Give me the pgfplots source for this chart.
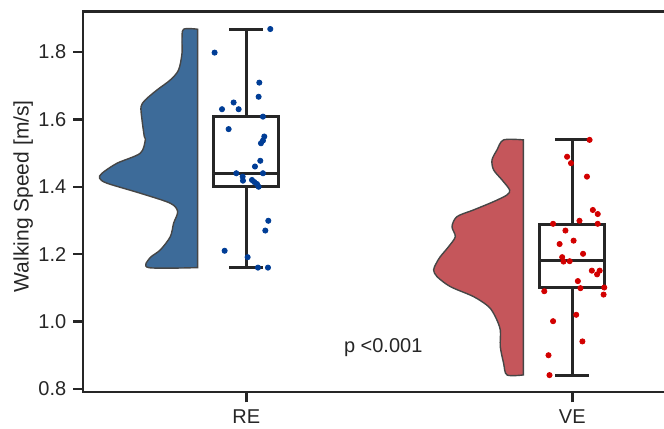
\documentclass[border=0pt]{standalone}
\usepackage{fontspec}
\setmainfont{Liberation Sans}
\usepackage{pgfplots}
\pgfplotsset{compat=1.18}
\usepgfplotslibrary{statistics}
\definecolor{spine}{RGB}{38,38,38}
\definecolor{REfill}{RGB}{61,107,153}
\definecolor{VEfill}{RGB}{197,86,91}
\definecolor{vedge}{RGB}{70,70,70}
\definecolor{REpt}{RGB}{0,61,150}
\definecolor{VEpt}{RGB}{210,0,0}
\begin{document}
\begin{tikzpicture}
\path[use as bounding box] (-41.65bp,-18.35bp) rectangle (290.35bp,196.15bp);
\begin{axis}[
  scale only axis, width=326bp, height=190.4bp,
  xmin=-0.5, xmax=1.5, ymin=0.79, ymax=1.92,
  xtick={0,1}, xticklabels={RE,VE},
  ytick={0.8,1.0,1.2,1.4,1.6,1.8},
  yticklabel style={/pgf/number format/.cd, fixed, fixed zerofill, precision=1, assume math mode=true},
  tick align=outside, tick pos=left, major tick length=5bp,
  axis line style={line width=1.2bp, draw=spine},
  every tick/.style={line width=1.2bp, draw=spine},
  font=\fontsize{10bp}{12bp}\selectfont,
  ticklabel style={font=\fontsize{10bp}{12bp}\selectfont, text=spine},
  ylabel={Walking Speed [m/s]},
  ylabel style={at={(axis description cs:-0.092,0.515)}, anchor=center, font=\fontsize{10.5bp}{12bp}\selectfont, text=spine},
  boxplot/draw direction=y,
  clip=false,
]
% RE half violin
\addplot[fill=REfill, draw=vedge, line width=0.7bp, smooth, tension=0.5] coordinates {
(-0.1494,1.8674) (-0.1923,1.8674) (-0.1972,1.8356) (-0.1972,1.7961) (-0.2077,1.7466)
(-0.2331,1.7169) (-0.2739,1.6872) (-0.3098,1.6576) (-0.3230,1.6377) (-0.3199,1.5982)
(-0.3129,1.5487) (-0.3098,1.5389) (-0.3252,1.4994) (-0.3966,1.4697) (-0.4426,1.4401)
(-0.4500,1.4252) (-0.4273,1.4104) (-0.3252,1.3807) (-0.2331,1.3510) (-0.2107,1.3261)
(-0.2230,1.2917) (-0.2331,1.2519) (-0.2638,1.2125) (-0.2966,1.1878) (-0.2997,1.1600)
(-0.1494,1.1600)
} -- cycle;
% VE half violin
\addplot[fill=VEfill, draw=vedge, line width=0.7bp, smooth, tension=0.5] coordinates {
(0.8500,1.539) (0.7893,1.539) (0.7690,1.5092) (0.7537,1.4795) (0.7586,1.4499)
(0.7844,1.4202) (0.8077,1.3905) (0.7997,1.3757) (0.7586,1.3558) (0.6972,1.3312)
(0.6463,1.3113) (0.6310,1.2816) (0.6411,1.2519) (0.6206,1.2223) (0.5951,1.1926)
(0.5828,1.1730) (0.5745,1.1531) (0.5850,1.1332) (0.6258,1.1036) (0.6972,1.0739)
(0.7433,1.0442) (0.7638,1.0145) (0.7791,0.9751) (0.7791,0.9255) (0.7893,0.8763)
(0.7997,0.8415) (0.8500,0.8415)
} -- cycle;
% box plots
\addplot[boxplot prepared={draw position=0, lower whisker=1.16, lower quartile=1.40, median=1.44, upper quartile=1.608, upper whisker=1.868, box extend=0.2, whisker extend=0.104}, draw=spine, line width=1.5bp, fill=white, solid] coordinates {};
\addplot[boxplot prepared={draw position=1, lower whisker=0.841, lower quartile=1.10, median=1.18, upper quartile=1.289, upper whisker=1.539, box extend=0.2, whisker extend=0.104}, draw=spine, line width=1.5bp, fill=white, solid] coordinates {};
% RE points
\addplot[only marks, mark=*, mark size=1.3bp, color=REpt, mark options={draw=none, fill=REpt}] coordinates {
(0.0736,1.868) (-0.0972,1.798) (0.0399,1.709) (0.0378,1.667) (-0.0389,1.650)
(-0.0745,1.630) (-0.0235,1.630) (0.0511,1.608) (-0.0542,1.571) (0.0552,1.549)
(0.0511,1.537) (0.0450,1.529) (0.0429,1.477) (0.0266,1.460) (-0.0307,1.440)
(0.0511,1.440) (-0.0112,1.430) (-0.0102,1.418) (0.0174,1.420) (0.0245,1.414)
(0.0327,1.408) (0.0378,1.400) (0.0675,1.299) (0.0583,1.270) (-0.0665,1.210)
(0.0041,1.191) (0.0358,1.160) (0.0665,1.160)
};
% VE points
\addplot[only marks, mark=*, mark size=1.3bp, color=VEpt, mark options={draw=none, fill=VEpt}] coordinates {
(1.053,1.539) (0.984,1.489) (0.996,1.470) (1.045,1.430) (1.063,1.331)
(1.078,1.319) (1.022,1.299) (0.941,1.290) (1.078,1.290) (0.979,1.270)
(1.004,1.240) (0.961,1.230) (1.033,1.201) (0.969,1.191) (0.992,1.179)
(0.973,1.178) (1.060,1.151) (1.084,1.151) (1.076,1.140) (1.017,1.120)
(1.025,1.099) (0.914,1.090) (1.098,1.101) (1.096,1.080) (1.012,1.020)
(0.941,1.001) (1.031,0.941) (0.927,0.900) (0.930,0.841)
};
\node[font=\fontsize{10bp}{12bp}\selectfont, text=spine, inner sep=0pt] at (axis cs:0.42,0.922) {p <0.001};
\end{axis}
\end{tikzpicture}
\end{document}
